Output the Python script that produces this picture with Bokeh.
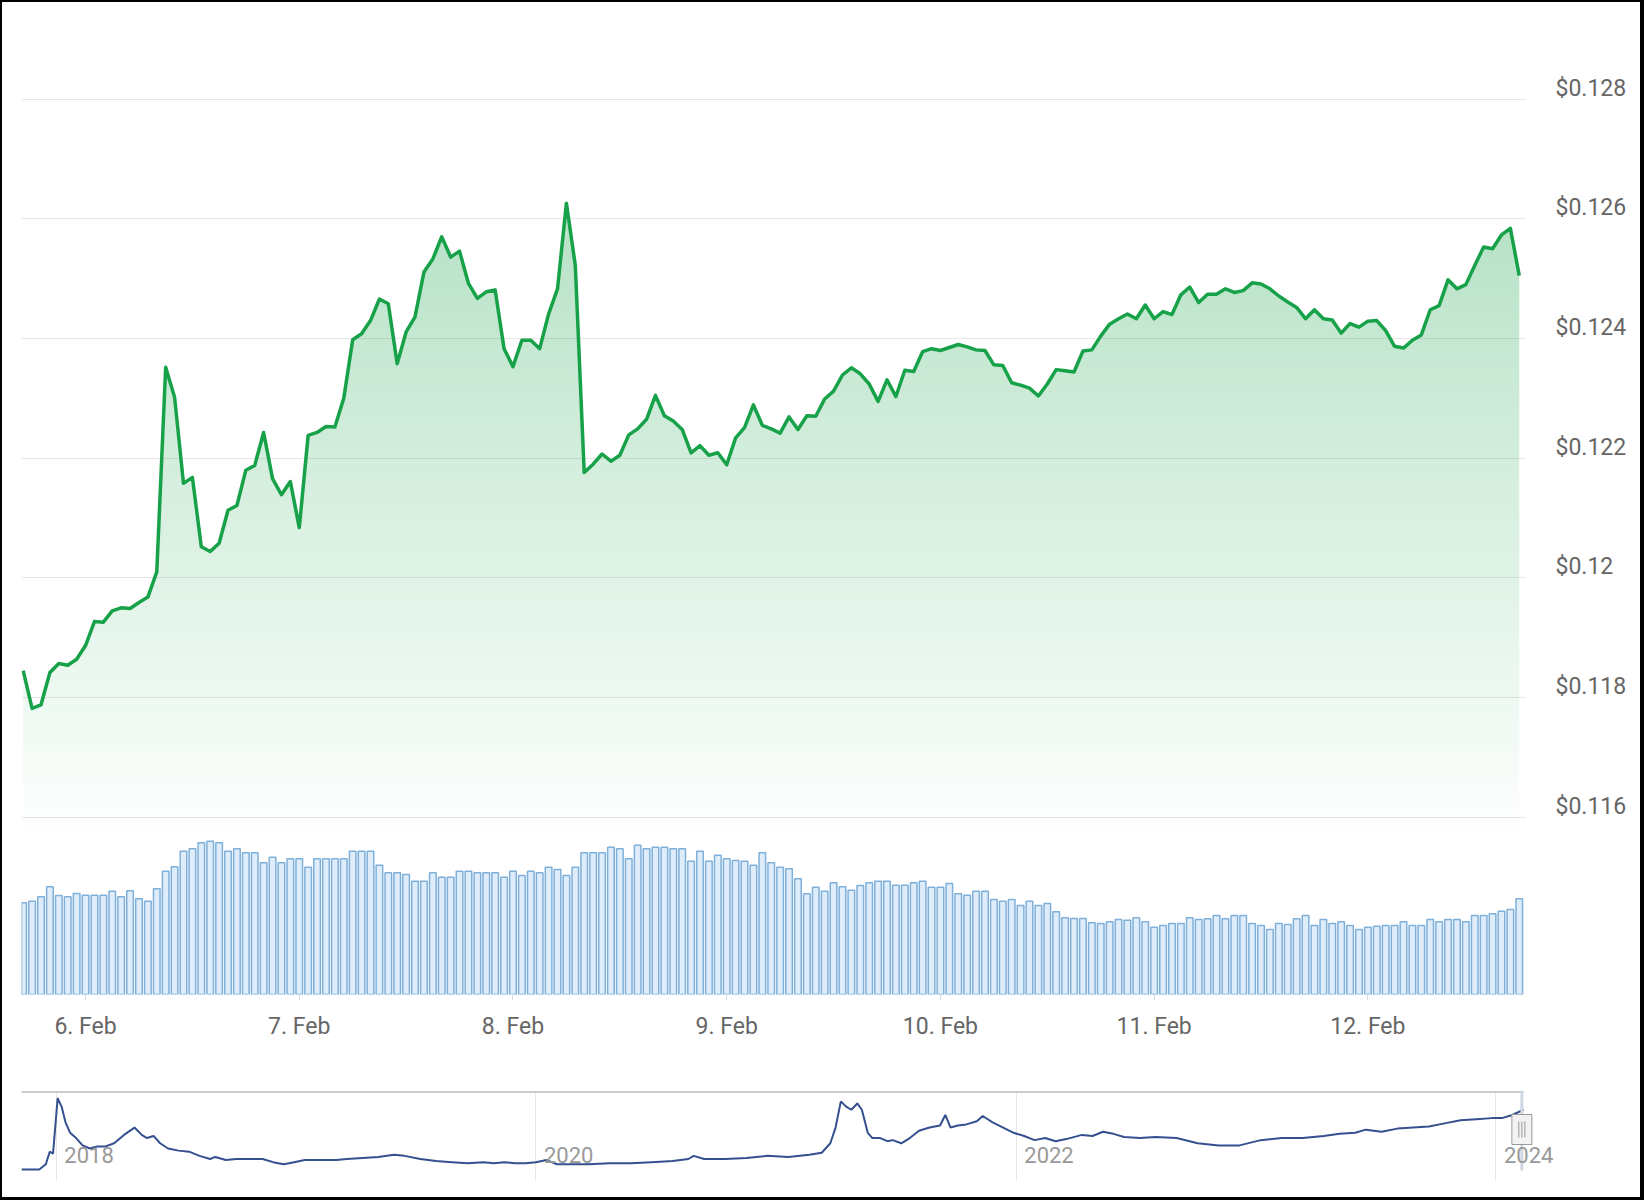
import numpy as np
from datetime import datetime
from bokeh.plotting import figure
from bokeh.models import Range1d, FixedTicker, LinearAxis, Grid, Label
from bokeh.layouts import column
from bokeh.embed import file_html
from bokeh.resources import INLINE

# ---------------- data ----------------
first_hour = "2024-02-05T17:00:00"   # hourly samples from here

price = [
    0.11845, 0.11782, 0.11788, 0.11842, 0.11857, 0.11854, 0.11864, 0.11887, 0.11927, 0.11926,
    0.11945, 0.11950, 0.11949, 0.11959, 0.11968, 0.12010, 0.12352, 0.12302, 0.12158, 0.12168,
    0.12052, 0.12044, 0.12058, 0.12113, 0.12121, 0.12180, 0.12188, 0.12243, 0.12166, 0.12139,
    0.12161, 0.12084, 0.12238, 0.12243, 0.12253, 0.12252, 0.12300, 0.12398, 0.12408, 0.12430,
    0.12466, 0.12458, 0.12358, 0.12411, 0.12436, 0.12511, 0.12533, 0.12570, 0.12536, 0.12546,
    0.12492, 0.12467, 0.12478, 0.12481, 0.12383, 0.12353, 0.12397, 0.12397, 0.12383, 0.12441,
    0.12483, 0.12626, 0.12522, 0.12176, 0.12190, 0.12207, 0.12195, 0.12205, 0.12239, 0.12249,
    0.12265, 0.12305, 0.12271, 0.12262, 0.12248, 0.12209, 0.12221, 0.12205, 0.12209, 0.12189,
    0.12234, 0.12251, 0.12289, 0.12255, 0.12249, 0.12242, 0.12269, 0.12248, 0.12271, 0.12270,
    0.12299, 0.12312, 0.12339, 0.12351, 0.12341, 0.12324, 0.12295, 0.12331, 0.12303, 0.12347,
    0.12345, 0.12378, 0.12383, 0.12380, 0.12385, 0.12390, 0.12386, 0.12381, 0.12380, 0.12356,
    0.12355, 0.12326, 0.12322, 0.12317, 0.12304, 0.12324, 0.12348, 0.12346, 0.12344, 0.12379,
    0.12381, 0.12404, 0.12424, 0.12433, 0.12441, 0.12433, 0.12456, 0.12433, 0.12445, 0.12440,
    0.12473, 0.12486, 0.12460, 0.12474, 0.12474, 0.12483, 0.12477, 0.12480, 0.12493, 0.12491,
    0.12483, 0.12471, 0.12461, 0.12452, 0.12433, 0.12448, 0.12433, 0.12431, 0.12409, 0.12425,
    0.12419, 0.12429, 0.12430, 0.12413, 0.12387, 0.12384, 0.12397, 0.12406, 0.12448, 0.12455,
    0.12498, 0.12483, 0.12490, 0.12522, 0.12553, 0.12550, 0.12573, 0.12584, 0.12505,
]

volume = [
    91.7, 93.3, 97.7, 107.7, 99.0, 97.7, 101.0, 99.3, 99.3, 99.3,
    103.3, 97.7, 103.7, 95.7, 93.3, 105.7, 123.3, 127.7, 143.3, 145.7,
    151.7, 153.3, 151.7, 143.3, 145.7, 141.7, 141.7, 131.7, 137.3, 131.7,
    135.7, 135.7, 127.3, 135.7, 135.7, 135.7, 135.7, 143.3, 143.3, 143.3,
    129.3, 121.7, 121.7, 120.0, 113.3, 113.3, 121.7, 117.3, 117.3, 123.3,
    123.3, 121.7, 121.7, 121.7, 117.3, 123.3, 119.0, 123.3, 121.7, 127.3,
    125.0, 119.0, 127.3, 141.7, 141.7, 141.7, 147.3, 145.7, 135.7, 149.3,
    145.7, 147.3, 147.3, 145.7, 145.7, 133.3, 143.3, 133.3, 139.3, 135.7,
    134.0, 133.3, 129.3, 141.7, 131.7, 127.3, 125.7, 115.7, 100.7, 107.3,
    103.3, 111.7, 107.7, 104.3, 109.0, 111.7, 113.3, 113.3, 109.3, 109.3,
    111.7, 113.3, 107.3, 107.3, 111.0, 100.7, 99.3, 103.3, 103.3, 95.0,
    93.3, 95.0, 89.0, 93.3, 89.0, 91.0, 82.7, 76.7, 76.0, 76.0,
    71.7, 71.0, 72.7, 75.0, 74.3, 76.7, 72.7, 67.3, 69.0, 71.0,
    71.0, 76.7, 75.0, 75.7, 79.0, 75.7, 79.0, 79.0, 71.0, 69.0,
    65.0, 71.0, 70.0, 75.7, 79.0, 69.0, 75.0, 71.0, 72.7, 69.0,
    65.0, 67.3, 68.3, 69.0, 69.0, 72.7, 69.0, 69.0, 75.0, 72.7,
    75.0, 75.0, 72.7, 79.0, 79.0, 80.7, 83.3, 85.0, 95.7,
]

day_ticks = ["2024-02-06", "2024-02-07", "2024-02-08", "2024-02-09",
             "2024-02-10", "2024-02-11", "2024-02-12"]
day_labels = ["6. Feb", "7. Feb", "8. Feb", "9. Feb", "10. Feb", "11. Feb", "12. Feb"]

price_ticks = [0.116, 0.118, 0.12, 0.122, 0.124, 0.126, 0.128]
price_labels = ["$0.116", "$0.118", "$0.12", "$0.122", "$0.124", "$0.126", "$0.128"]

nav_dates = [
    "2017-11-09", "2017-12-06", "2017-12-16", "2017-12-22", "2017-12-27", "2018-01-03",
    "2018-01-09", "2018-01-15", "2018-01-22", "2018-01-31", "2018-02-10", "2018-02-21",
    "2018-03-04", "2018-03-17", "2018-03-30", "2018-04-14", "2018-04-30", "2018-05-11",
    "2018-05-19", "2018-05-29", "2018-06-08", "2018-06-20", "2018-07-06", "2018-07-22",
    "2018-08-07", "2018-08-23", "2018-08-31", "2018-09-16", "2018-10-02", "2018-10-26",
    "2018-11-11", "2018-11-27", "2018-12-13", "2018-12-29", "2019-01-14", "2019-01-30",
    "2019-02-15", "2019-03-03", "2019-03-19", "2019-04-12", "2019-05-06", "2019-05-30",
    "2019-06-15", "2019-07-09", "2019-08-02", "2019-08-26", "2019-09-19", "2019-10-13",
    "2019-10-29", "2019-11-14", "2019-11-30", "2019-12-16", "2020-01-01", "2020-01-17",
    "2020-02-02", "2020-02-26", "2020-03-21", "2020-04-22", "2020-05-24", "2020-06-25",
    "2020-07-27", "2020-08-20", "2020-08-28", "2020-09-13", "2020-10-15", "2020-11-16",
    "2020-12-18", "2021-01-19", "2021-02-20", "2021-03-11", "2021-03-24", "2021-04-01",
    "2021-04-09", "2021-04-17", "2021-04-25", "2021-05-04", "2021-05-11", "2021-05-20",
    "2021-05-27", "2021-06-08", "2021-06-19", "2021-06-27", "2021-07-10", "2021-07-23",
    "2021-08-06", "2021-08-22", "2021-09-07", "2021-09-15", "2021-09-23", "2021-10-04",
    "2021-10-17", "2021-11-02", "2021-11-11", "2021-11-26", "2021-12-12", "2021-12-28",
    "2022-01-13", "2022-01-29", "2022-02-14", "2022-03-02", "2022-03-18", "2022-04-11",
    "2022-04-27", "2022-05-13", "2022-05-29", "2022-06-14", "2022-07-08", "2022-08-01",
    "2022-09-02", "2022-10-04", "2022-11-05", "2022-12-07", "2023-01-08", "2023-02-09",
    "2023-03-13", "2023-04-14", "2023-05-08", "2023-06-01", "2023-06-17", "2023-07-11",
    "2023-08-04", "2023-08-28", "2023-09-21", "2023-10-15", "2023-11-08", "2023-12-02",
    "2023-12-26", "2024-01-10", "2024-01-26", "2024-02-12",
]
nav_values = [
    0.0020, 0.0020, 0.0175, 0.0547, 0.0485, 0.2128,
    0.1880, 0.1415, 0.1105, 0.0950, 0.0733, 0.0640,
    0.0702, 0.0702, 0.0795, 0.1043, 0.1260, 0.1043,
    0.0950, 0.1012, 0.0795, 0.0640, 0.0578, 0.0547,
    0.0423, 0.0330, 0.0392, 0.0299, 0.0330, 0.0330,
    0.0330, 0.0237, 0.0175, 0.0237, 0.0299, 0.0299,
    0.0299, 0.0299, 0.0330, 0.0361, 0.0392, 0.0454,
    0.0423, 0.0330, 0.0268, 0.0237, 0.0206, 0.0237,
    0.0206, 0.0237, 0.0206, 0.0206, 0.0237, 0.0299,
    0.0175, 0.0175, 0.0175, 0.0206, 0.0206, 0.0237,
    0.0268, 0.0330, 0.0423, 0.0330, 0.0330, 0.0361,
    0.0423, 0.0392, 0.0454, 0.0516, 0.0795, 0.1260,
    0.2035, 0.1880, 0.1787, 0.1973, 0.1787, 0.1105,
    0.0950, 0.0950, 0.0857, 0.0888, 0.0795, 0.0950,
    0.1167, 0.1260, 0.1322, 0.1632, 0.1260, 0.1322,
    0.1353, 0.1446, 0.1601, 0.1415, 0.1260, 0.1105,
    0.1012, 0.0888, 0.0950, 0.0857, 0.0919, 0.1043,
    0.1012, 0.1136, 0.1074, 0.0981, 0.0950, 0.0981,
    0.0950, 0.0795, 0.0733, 0.0733, 0.0888, 0.0950,
    0.0950, 0.1012, 0.1074, 0.1105, 0.1198, 0.1136,
    0.1229, 0.1260, 0.1291, 0.1384, 0.1477, 0.1508,
    0.1539, 0.1539, 0.1632, 0.1787,
]

year_ticks = ["2018-01-01", "2020-01-01", "2022-01-01", "2024-01-01"]
year_labels = ["2018", "2020", "2022", "2024"]

# ---------------- helpers ----------------
EPOCH = datetime(1970, 1, 1)
HOUR = 3600_000.0
DAY = 24 * HOUR


def ms(s):
    return (datetime.fromisoformat(s) - EPOCH).total_seconds() * 1000.0


t0 = ms(first_hour)
times = [t0 + i * HOUR for i in range(len(price))]
day_ms = [ms(d) for d in day_ticks]
year_ms = [ms(d) for d in year_ticks]
nav_ms = [ms(d) for d in nav_dates]

FONT = "Roboto"

# ---------------- main price + volume chart ----------------
PX = 0.002 / 119.7                     # price per screen pixel
y_lo = 0.116 - (994 - 816.8) * PX
y_hi = 0.116 + (816.8 - 10) * PX
label_shift = 11 * PX

p = figure(width=1638, height=1058, title=None,
           x_range=Range1d(times[0] - 0.19 * HOUR, times[-1] + 0.7 * HOUR),
           y_range=Range1d(y_lo, y_hi),
           x_axis_location="below", y_axis_location=None,
           output_backend="svg", toolbar_location=None,
           min_border_left=19, min_border_right=115,
           min_border_top=8, min_border_bottom=66,
           background_fill_color="white", border_fill_color="white",
           outline_line_color=None)
p.frame_align = False
p.xgrid.visible = False
p.ygrid.visible = False
p.add_layout(Grid(dimension=1, ticker=FixedTicker(ticks=price_ticks),
                  grid_line_color="#e6e6e6", grid_line_width=1))

p.extra_y_ranges = {
    "vol": Range1d(0, 984),
    "lab": Range1d(y_lo - label_shift, y_hi - label_shift),
}

# vertical-gradient area under the price line: thin horizontal bands,
# band k spans [lo, hi] but never rises above the price line
price_arr = np.array(price)


def grad_alpha(v):
    return min(max(29.8 * (v - 0.11557), 0.0), 0.34)


step = 0.0001
levels = np.arange(0.1156, 0.12645, step)
for lo in levels:
    a = grad_alpha(lo + step / 2)
    if a <= 0:
        continue
    p.varea(x=times, y1=np.minimum(price_arr, lo), y2=np.minimum(price_arr, lo + step),
            fill_color="#16a34a", fill_alpha=float(a))

# volume bars
p.vbar(x=times, top=volume, bottom=0, width=0.74 * HOUR, y_range_name="vol",
       fill_color="#deedf9", line_color="#7fb0da", line_width=1.5)

# price line
p.line(times, price, line_color="#17a148", line_width=3.5, line_join="round")

# price labels on the right
ax = LinearAxis(y_range_name="lab", ticker=FixedTicker(ticks=price_ticks),
                major_label_overrides={t: l for t, l in zip(price_ticks, price_labels)},
                axis_line_color=None, major_tick_line_color=None,
                minor_tick_line_color=None,
                major_label_text_font=FONT, major_label_text_font_size="23px",
                major_label_text_color="#666666", major_label_standoff=24)
p.add_layout(ax, "right")

# date axis
xa = p.xaxis[0]
xa.ticker = FixedTicker(ticks=day_ms)
xa.major_label_overrides = {t: l for t, l in zip(day_ms, day_labels)}
xa.axis_line_color = None
xa.major_tick_line_color = "#d9d9d9"
xa.major_tick_out = 6
xa.major_tick_in = 0
xa.minor_tick_line_color = None
xa.major_label_text_font = FONT
xa.major_label_text_font_size = "23px"
xa.major_label_text_color = "#666666"
xa.major_label_standoff = 12

# ---------------- navigator ----------------
NPX = 0.0031 / 1.0485
nav_lo = 0.002 - (1180 - 1169) * NPX
nav_hi = 0.002 + (1169 - 1090) * NPX


def nav_y(px):
    return 0.002 + (1169 - px) * NPX


nav_left = ms("2017-11-09")
nav_end = nav_ms[-1]                      # sits at x = 1523 px
nav_right = nav_left + (nav_end - nav_left) * (1600 - 21) / (1523 - 21)

p2 = figure(width=1638, height=137, title=None,
            x_range=Range1d(nav_left, nav_right),
            y_range=Range1d(nav_lo, nav_hi),
            x_axis_location=None, y_axis_location=None,
            output_backend="svg", toolbar_location=None,
            min_border_left=19, min_border_right=40,
            min_border_top=30, min_border_bottom=17,
            background_fill_color="white", border_fill_color="white",
            outline_line_color=None)
p2.frame_align = False
p2.xgrid.visible = False
p2.ygrid.visible = False
p2.add_layout(Grid(dimension=0, ticker=FixedTicker(ticks=year_ms),
                   grid_line_color="#e6e6e6", grid_line_width=1))

p2.line(nav_ms, nav_values, line_color="#34508f", line_width=2)

# navigator outline (top edge)
p2.segment(x0=[nav_left], x1=[nav_end], y0=[nav_y(1091.5)], y1=[nav_y(1091.5)],
           line_color="#cccccc", line_width=2)

for t, lab in zip(year_ms, year_labels):
    p2.add_layout(Label(x=t, y=nav_y(1154), text=lab,
                        x_offset=8, text_baseline="middle", text_align="left",
                        text_font=FONT, text_font_size="22px",
                        text_color="#999999"))

# right-hand navigator handle at the selected (latest) period
h_c = nav_end - 2.5 * DAY
p2.segment(x0=[h_c], x1=[h_c], y0=[nav_y(1170)], y1=[nav_y(1091)],
           line_color="#cfd8e3", line_width=3)
p2.quad(left=[h_c - 15.2 * DAY], right=[h_c + 15.2 * DAY],
        top=[nav_y(1114)], bottom=[nav_y(1144)],
        fill_color="#f2f2f2", line_color="#999999", line_width=1)
p2.segment(x0=[h_c - 4.6 * DAY, h_c, h_c + 4.6 * DAY],
           x1=[h_c - 4.6 * DAY, h_c, h_c + 4.6 * DAY],
           y0=[nav_y(1121)] * 3, y1=[nav_y(1137)] * 3,
           line_color="#999999", line_width=1)

layout = column(p, p2, styles={"border-style": "solid", "border-color": "black",
                               "border-width": "2px 4px 3px 2px"})

open("out.html", "w").write(file_html(layout, INLINE))
